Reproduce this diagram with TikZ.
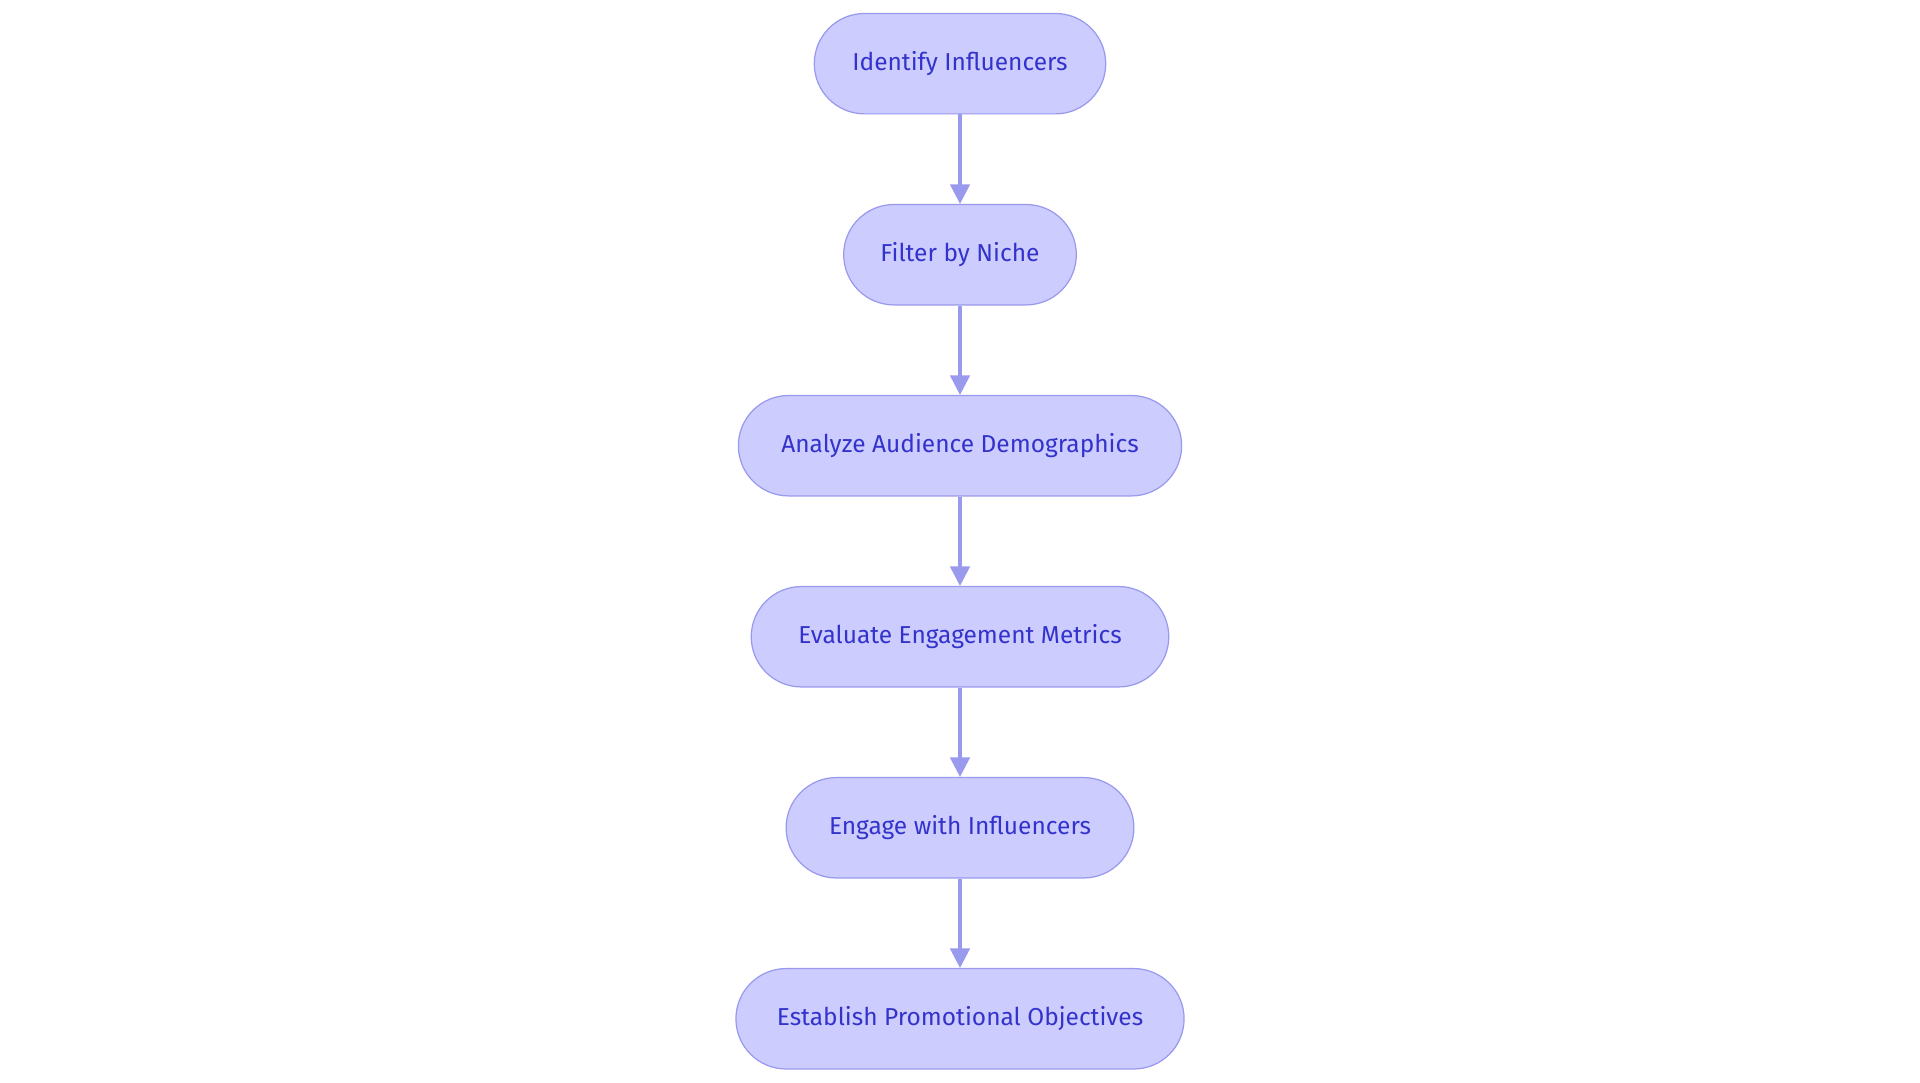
\documentclass[tikz,border=0pt]{standalone}
\usepackage{fontspec}
\setmainfont{Fira Sans}
\usetikzlibrary{positioning}
\usetikzlibrary{arrows.meta}
\definecolor{stepfill}{HTML}{CCCCFF}
\definecolor{stepline}{HTML}{9999EE}
\definecolor{steptext}{HTML}{3333CC}
\begin{document}
\begin{tikzpicture}[x=1pt, y=1pt, node distance=73pt,
	stage/.style={rectangle, rounded corners=41pt, fill=stepfill, draw=stepline, line width=1pt, text=steptext, minimum height=82pt, font=\fontsize{20}{24}\selectfont, inner sep=0pt},
	flow/.style={-{Triangle[length=16pt, width=16pt]}, draw=stepline, line width=2.5pt}]
		\useasboundingbox (0,0) rectangle (1568,-884);
		\node[stage, minimum width=238pt](identify) at (784,-52){Identify Influencers};
		\node[stage, minimum width=190pt, below=of identify](filter){Filter by Niche};
		\node[stage, minimum width=362pt, below=of filter](analyze){Analyze Audience Demographics};
		\node[stage, minimum width=341pt, below=of analyze](evaluate){Evaluate Engagement Metrics};
		\node[stage, minimum width=284pt, below=of evaluate](engage){Engage with Influencers};
		\node[stage, minimum width=366pt, below=of engage](establish){Establish Promotional Objectives};
		\draw [flow] (identify) -- (filter);
		\draw [flow] (filter) -- (analyze);
		\draw [flow] (analyze) -- (evaluate);
		\draw [flow] (evaluate) -- (engage);
		\draw [flow] (engage) -- (establish);
	\end{tikzpicture}
\end{document}
